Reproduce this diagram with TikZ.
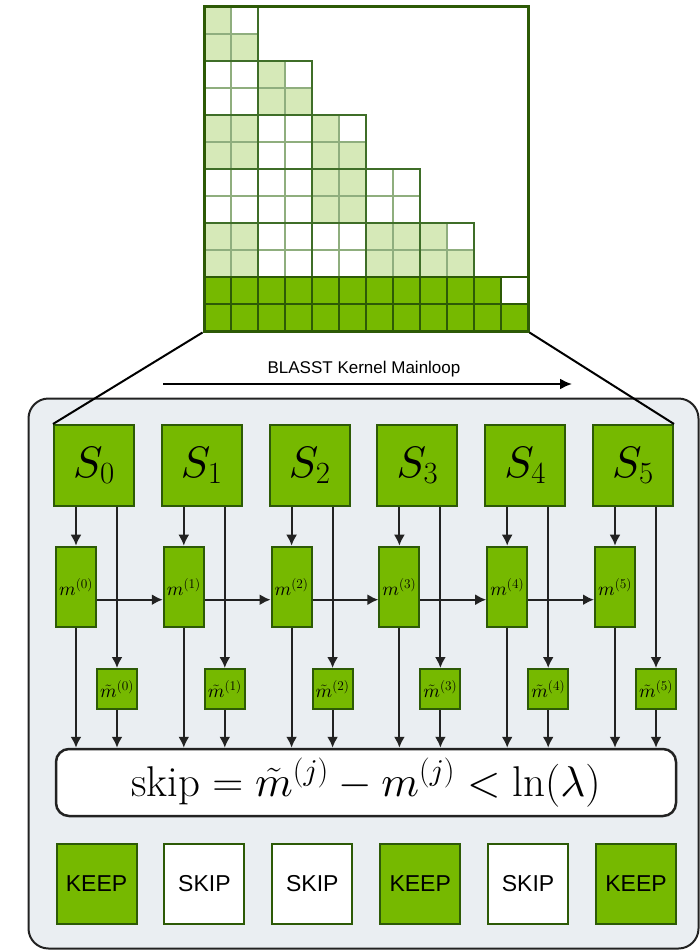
\documentclass[tikz,border=0pt]{standalone}
\usepackage{fontspec}
\newfontfamily\labelsans{Liberation Sans}
\usetikzlibrary{arrows.meta}
% scalable math fonts for the large formulas
\DeclareFontFamily{OT1}{cmr}{\hyphenchar\font45 }
\DeclareFontShape{OT1}{cmr}{m}{n}{<-6>cmr5<6-7>cmr6<7-8>cmr7<8-9>cmr8<9-10>cmr9<10-12>cmr10<12-17>cmr12<17->cmr17}{}
\DeclareFontFamily{OML}{cmm}{\skewchar\font127 }
\DeclareFontShape{OML}{cmm}{m}{it}{<-6>cmmi5<6-7>cmmi6<7-8>cmmi7<8-9>cmmi8<9-10>cmmi9<10->cmmi10}{}
\DeclareFontFamily{OMS}{cmsy}{\skewchar\font48 }
\DeclareFontShape{OMS}{cmsy}{m}{n}{<-6>cmsy5<6-7>cmsy6<7-8>cmsy7<8-9>cmsy8<9-10>cmsy9<10->cmsy10}{}
\DeclareFontFamily{OMX}{cmex}{}
\DeclareFontShape{OMX}{cmex}{m}{n}{<->cmex10}{}
\definecolor{nvgreen}{HTML}{76B900}
\definecolor{nvdark}{HTML}{2D5A06}
\definecolor{paleg}{HTML}{D6E9B8}
\definecolor{gridthin}{HTML}{8FAE7E}
\definecolor{gridthick}{HTML}{3F6E28}
\definecolor{panelbg}{HTML}{EAEEF2}
\definecolor{ink}{HTML}{222222}

\begin{document}
\begin{tikzpicture}[x=1pt,y=-1pt,
  greenbox/.style={draw=nvdark,fill=nvgreen,line width=2pt,inner sep=0pt},
  sbox/.style={greenbox,minimum width=80pt,minimum height=81pt,font=\fontsize{44}{50}\selectfont},
  mbox/.style={greenbox,minimum width=40pt,minimum height=80pt,font=\fontsize{19}{22}\selectfont},
  mtbox/.style={greenbox,minimum width=40pt,minimum height=40pt,font=\fontsize{19}{22}\selectfont},
  keepbox/.style={greenbox,minimum size=80pt,font=\labelsans\fontsize{23}{26}\selectfont},
  skipbox/.style={keepbox,fill=white},
  flow/.style={draw=ink,line width=2pt,-{Latex[length=11pt,width=11pt]}},
  thincell/.style={gridthin,line width=1.2pt},
  thickblock/.style={gridthick,line width=2.6pt}]
\useasboundingbox (0,0) rectangle (700,950);

% ---- block-sparse attention mask (12x12 cells, 2x2 blocks) ----
\foreach \r/\c in {0/0,1/0,1/1,2/2,3/2,3/3,4/0,4/1,4/4,5/0,5/1,5/4,5/5,
                   6/4,6/5,7/4,7/5,8/0,8/1,8/6,8/7,8/8,9/0,9/1,9/6,9/7,9/8,9/9}
  \fill[paleg] (204+27*\c,7+27*\r) rectangle ++(27,27);
\fill[nvgreen] (204,277) rectangle (528,331);
\fill[white] (501,277) rectangle ++(27,27);

\foreach \b in {0,...,4} {
  \pgfmathtruncatemacro\cmax{2*\b+1}
  \foreach \r in {0,1} {
    \foreach \c in {0,...,\cmax}
      \draw[thincell] (204+27*\c,7+54*\b+27*\r) rectangle ++(27,27);
  }
}
\foreach \b in {0,...,4} {
  \foreach \k in {0,...,\b}
    \draw[thickblock] (204+54*\k,7+54*\b) rectangle ++(54,54);
}
\foreach \r in {10,11} {
  \foreach \c in {0,...,11}
    \draw[nvdark,line width=1.2pt] (204+27*\c,7+27*\r) rectangle ++(27,27);
}
\foreach \k in {0,...,5}
  \draw[nvdark,line width=2.6pt] (204+54*\k,277) rectangle ++(54,54);
\node[draw=nvdark,line width=3pt,minimum size=324pt,inner sep=0pt] (mat) at (366,169) {};

% ---- main loop direction ----
\coordinate (loopA) at (163,384);
\coordinate (loopB) at (572,384);
\draw[black,line width=2pt,-{Latex[length=12pt,width=11pt]}] (loopA) -- (loopB);
\node[font=\labelsans\fontsize{17}{20}\selectfont] (looplabel) at (364,369) {BLASST Kernel Mainloop};

% ---- kernel panel ----
\draw[ink,line width=2pt,fill=panelbg,rounded corners=20pt] (28.5,398.5) rectangle (698.5,948.5);

\foreach \j in {0,...,5} {
  \node[sbox] (S\j) at (94+107.8*\j,465.5) {$S_\j$};
  \node[mbox] (m\j) at (76+107.8*\j,586.7) {$m^{(\j)}$};
  \node[mtbox] (mt\j) at (117+107.8*\j,689) {$\tilde m^{(\j)}$};
}

\node[draw=ink,fill=white,line width=2.5pt,rounded corners=13pt,minimum width=620pt,
      minimum height=67pt,inner sep=0pt,font=\fontsize{43}{48}\selectfont] (rule) at (366,782.5)
  {$\mathrm{skip} = \tilde m^{(j)} - m^{(j)} < \ln(\lambda)$};

\foreach \j/\word/\sty in {0/KEEP/keepbox,1/SKIP/skipbox,2/SKIP/skipbox,
                           3/KEEP/keepbox,4/SKIP/skipbox,5/KEEP/keepbox}
  \node[\sty] (out\j) at (96.5+107.9*\j,884) {\word};

% ---- data flow ----
\foreach \j in {0,...,5} {
  \draw[flow] (S\j.south -| m\j.north) -- (m\j.north);
  \draw[flow] (S\j.south -| mt\j.north) -- (mt\j.north);
  \draw[flow] (m\j.south) -- (m\j.south |- rule.north);
  \draw[flow] (mt\j.south) -- (mt\j.south |- rule.north);
}
\foreach \j [evaluate=\j as \n using int(\j+1)] in {0,...,4}
  \draw[flow] ([yshift=-13pt]m\j.east) -- ([yshift=-13pt]m\n.west);

% ---- zoom lines from the last block row to the tiles ----
\draw[black,line width=2pt] (mat.south west) -- (S0.north west);
\draw[black,line width=2pt] (mat.south east) -- (S5.north east);
\end{tikzpicture}
\end{document}
